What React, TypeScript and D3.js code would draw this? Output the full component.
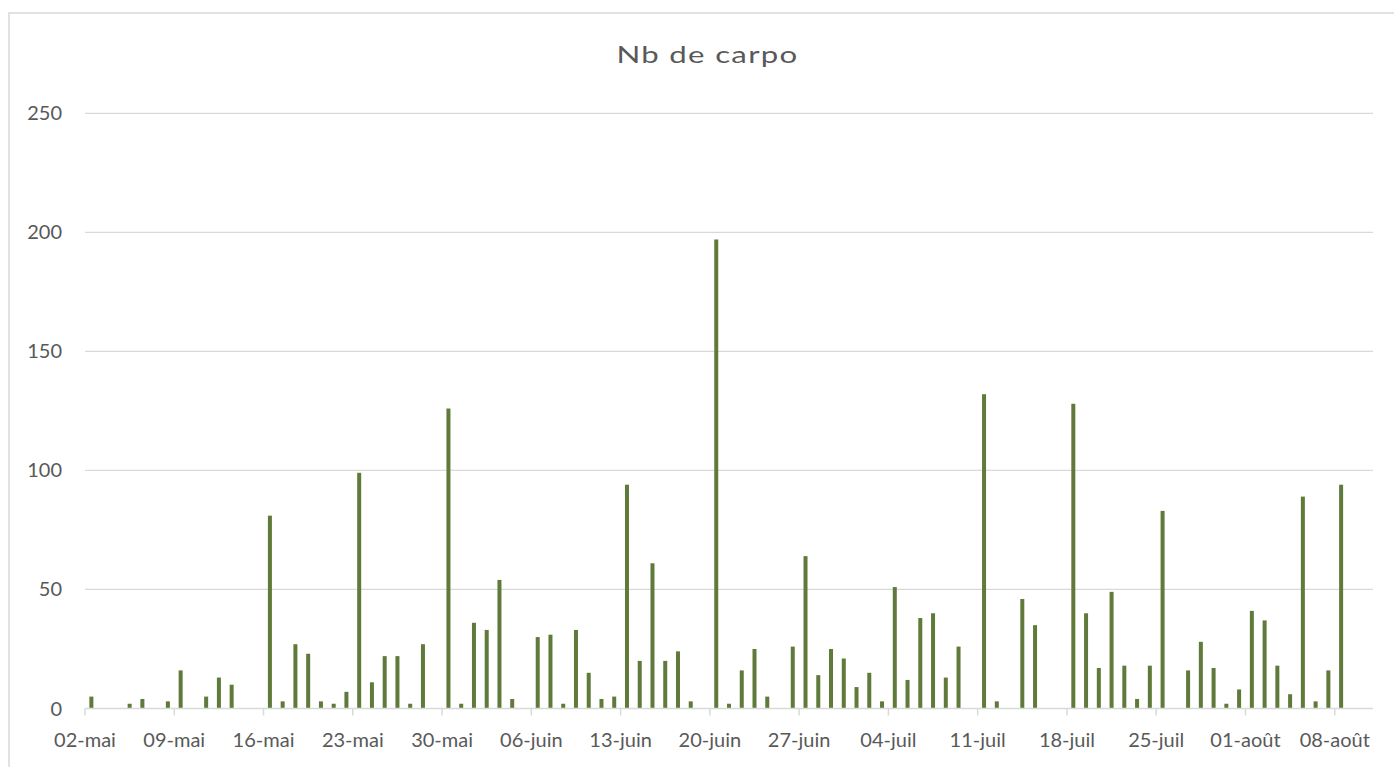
import React from "react";
import * as d3 from "d3";

const title = "Nb de carpo";

const dates = [
  "2022-05-02", "2022-05-05", "2022-05-06", "2022-05-08", "2022-05-09", "2022-05-11", "2022-05-12", "2022-05-13",
  "2022-05-16", "2022-05-17", "2022-05-18", "2022-05-19", "2022-05-20", "2022-05-21", "2022-05-22", "2022-05-23",
  "2022-05-24", "2022-05-25", "2022-05-26", "2022-05-27", "2022-05-28", "2022-05-30", "2022-05-31", "2022-06-01",
  "2022-06-02", "2022-06-03", "2022-06-04", "2022-06-06", "2022-06-07", "2022-06-08", "2022-06-09", "2022-06-10",
  "2022-06-11", "2022-06-12", "2022-06-13", "2022-06-14", "2022-06-15", "2022-06-16", "2022-06-17", "2022-06-18",
  "2022-06-20", "2022-06-21", "2022-06-22", "2022-06-23", "2022-06-24", "2022-06-26", "2022-06-27", "2022-06-28",
  "2022-06-29", "2022-06-30", "2022-07-01", "2022-07-02", "2022-07-03", "2022-07-04", "2022-07-05", "2022-07-06",
  "2022-07-07", "2022-07-08", "2022-07-09", "2022-07-11", "2022-07-12", "2022-07-14", "2022-07-15", "2022-07-18",
  "2022-07-19", "2022-07-20", "2022-07-21", "2022-07-22", "2022-07-23", "2022-07-24", "2022-07-25", "2022-07-27",
  "2022-07-28", "2022-07-29", "2022-07-30", "2022-07-31", "2022-08-01", "2022-08-02", "2022-08-03", "2022-08-04",
  "2022-08-05", "2022-08-06", "2022-08-07", "2022-08-08",
];

const counts = [
  5, 2, 4, 3, 16, 5, 13, 10,
  81, 3, 27, 23, 3, 2, 7, 99,
  11, 22, 22, 2, 27, 126, 2, 36,
  33, 54, 4, 30, 31, 2, 33, 15,
  4, 5, 94, 20, 61, 20, 24, 3,
  197, 2, 16, 25, 5, 26, 64, 14,
  25, 21, 9, 15, 3, 51, 12, 38,
  40, 13, 26, 132, 3, 46, 35, 128,
  40, 17, 49, 18, 4, 18, 83, 16,
  28, 17, 2, 8, 41, 37, 18, 6,
  89, 3, 16, 94,
];

const xTickLabels = [
  "02-mai", "09-mai", "16-mai", "23-mai", "30-mai", "06-juin", "13-juin", "20-juin",
  "27-juin", "04-juil", "11-juil", "18-juil", "25-juil", "01-août", "08-août",
];

const yTicks = [0, 50, 100, 150, 200, 250];

const domainStart = "2022-05-02";
const domainEnd = "2022-08-11";

export default function App() {
  const W = 1394;
  const H = 767;
  const left = 85;
  const right = 1373;
  const top = 113.3;
  const bottom = 708.5;
  const font = "Lato, 'Open Sans', sans-serif";
  const textColor = "#595959";
  const gridColor = "#d9d9d9";
  const barColor = "#5f7a3a";

  const start = new Date(domainStart + "T00:00:00Z");
  const end = new Date(domainEnd + "T00:00:00Z");
  const x = d3.scaleUtc().domain([start, end]).range([left, right]);
  const y = d3.scaleLinear().domain([0, 250]).range([bottom, top]);
  const dayW = x(d3.utcDay.offset(start, 1)) - x(start);
  const barW = 4;

  const parsed = dates.map((d) => new Date(d + "T00:00:00Z"));
  const tickDates = xTickLabels.map((_, i) => d3.utcDay.offset(start, 7 * i));

  return (
    <svg
      width={W}
      height={H}
      style={{ position: "absolute", left: 0, top: 0, background: "#fff" }}
    >
      <rect x={9} y={13} width={W + 20} height={H + 20} fill="#fff" stroke={gridColor} strokeWidth={1.5} />
      <g transform="translate(707.5,63) scale(1.3,1)">
        <text
          x={0}
          y={0}
          textAnchor="middle"
          fontFamily={font}
          fontSize={24}
          fill={textColor}
          letterSpacing={1}
        >
          {title}
        </text>
      </g>
      {yTicks.map((t) => (
        <g key={t}>
          {t > 0 && (
            <line x1={left} x2={right} y1={y(t)} y2={y(t)} stroke={gridColor} strokeWidth={1.3} />
          )}
          <text
            x={62}
            y={y(t) + 7}
            textAnchor="end"
            fontFamily={font}
            fontSize={20}
            fill={textColor}
          >
            {t}
          </text>
        </g>
      ))}
      {parsed.map((d, i) => (
        <rect
          key={dates[i]}
          x={x(d) + dayW / 2 - barW / 2}
          y={y(counts[i])}
          width={barW}
          height={y(0) - y(counts[i])}
          fill={barColor}
        />
      ))}
      <line x1={left} x2={right} y1={bottom} y2={bottom} stroke={gridColor} strokeWidth={1.5} />
      {tickDates.map((d, i) => (
        <g key={xTickLabels[i]}>
          <line x1={x(d)} x2={x(d)} y1={bottom} y2={bottom + 7} stroke={gridColor} strokeWidth={1.5} />
          <text
            x={x(d)}
            y={746.5}
            textAnchor="middle"
            fontFamily={font}
            fontSize={20}
            fill={textColor}
          >
            {xTickLabels[i]}
          </text>
        </g>
      ))}
    </svg>
  );
}
